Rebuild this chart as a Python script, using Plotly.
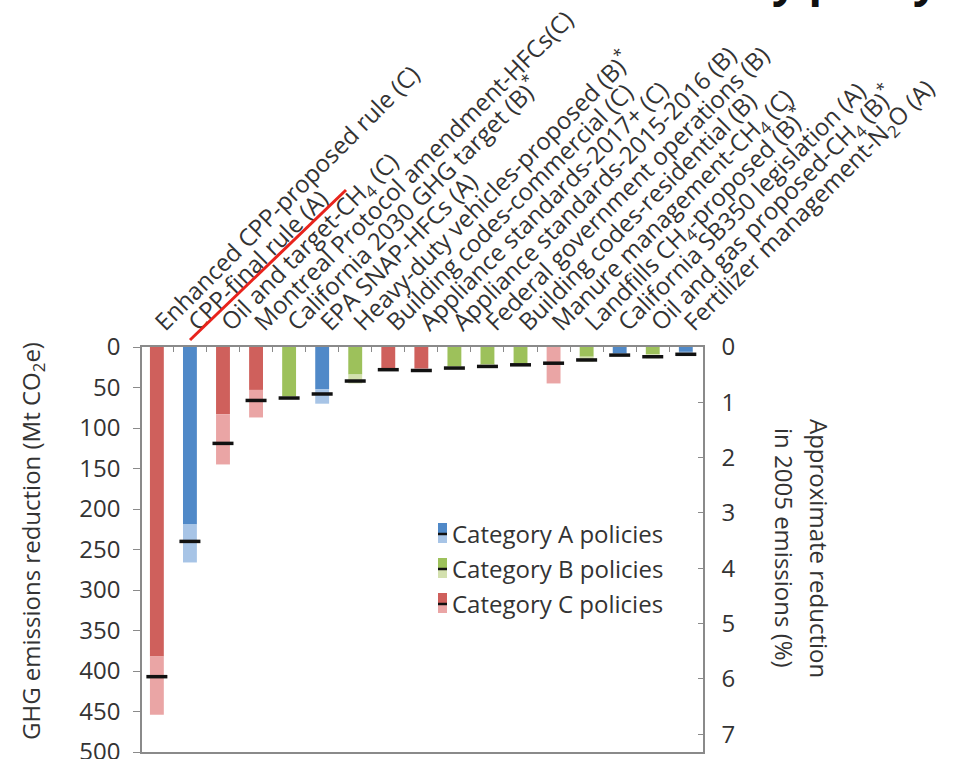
import plotly.graph_objects as go

# -------------------------------------------------------------
# Data (Mt CO2e)
# -------------------------------------------------------------
policies = [
    "Enhanced CPP-proposed rule (C)",
    "CPP-final rule (A)",
    "Oil and target-CH<sub>4</sub> (C)",
    "Montreal Protocol amendment-HFCs(C)",
    "California 2030 GHG target (B)<sup>*</sup>",
    "EPA SNAP-HFCs (A)",
    "Heavy-duty vehicles-proposed (B)<sup>*</sup>",
    "Building codes-commercial (C)",
    "Appliance standards-2017+ (C)",
    "Appliance standards-2015-2016 (B)",
    "Federal government operations (B)",
    "Building codes-residential (B)",
    "Manure management-CH<sub>4</sub> (C)",
    "Landfills CH<sub>4</sub>-proposed (B)<sup>*</sup>",
    "California SB350 legislation (A)",
    "Oil and gas proposed-CH<sub>4</sub> (B)<sup>*</sup>",
    "Fertilizer management-N<sub>2</sub>O (A)",
]
category = ["C", "A", "C", "C", "B", "A", "B", "C", "C", "B", "B", "B", "C", "B", "A", "B", "A"]
low_end = [382, 219, 83, 53, 61, 52, 34, 26, 26, 24, 22, 20, 0, 12, 8, 9, 6]
central = [407, 240, 119, 66, 63, 58, 42, 28, 29, 26, 24, 22, 20, 16, 10, 12, 9]
high_end = [454, 266, 145, 87, 64, 70, 45, 28, 29, 26, 24, 22, 45, 18, 10, 14, 9]

left_ticks = [0, 50, 100, 150, 200, 250, 300, 350, 400, 450, 500]
right_ticks = [0, 1, 2, 3, 4, 5, 6, 7]

dark = {"A": "#5089c8", "B": "#9dc15b", "C": "#cf605c"}
light = {"A": "#a7c4e6", "B": "#d3e0ae", "C": "#eaa5a5"}
legend_names = {"A": "Category A policies", "B": "Category B policies", "C": "Category C policies"}

FONT = "Open Sans"
FS = 24
TXT = "#333333"
AX = "#8a8a8a"

# pixel layout helpers
W, H = 963, 759
L, R, T, B = 142, 260, 347, 7
PW, PH = W - L - R, H - T - B


def px(x):
    return (x - L) / PW


def py(y):
    return (H - B - y) / PH


# -------------------------------------------------------------
# Figure
# -------------------------------------------------------------
fig = go.Figure()

fig.add_trace(go.Bar(
    x=policies, y=low_end,
    marker=dict(color=[dark[c] for c in category], line=dict(width=0)),
    width=0.42, showlegend=False, hoverinfo="skip",
))
fig.add_trace(go.Bar(
    x=policies, y=[h - l for h, l in zip(high_end, low_end)], base=low_end,
    marker=dict(color=[light[c] for c in category], line=dict(width=0)),
    width=0.42, showlegend=False, hoverinfo="skip",
))
fig.add_trace(go.Scatter(
    x=policies, y=central, mode="markers",
    marker=dict(symbol="line-ew", size=15, line=dict(width=3.5, color="#111111")),
    showlegend=False, hoverinfo="skip",
))
# invisible trace so the right axis is drawn
fig.add_trace(go.Scatter(x=[policies[0]], y=[0], yaxis="y2", mode="markers",
                         marker=dict(opacity=0), showlegend=False, hoverinfo="skip"))

fig.update_layout(
    width=W, height=H,
    margin=dict(l=L, r=R, t=T, b=B, autoexpand=False),
    paper_bgcolor="white", plot_bgcolor="white",
    barmode="overlay",
    font=dict(family=FONT, size=FS, color=TXT),
    xaxis=dict(
        type="category", side="top", range=[-0.45, 16.52],
        tickangle=-45, tickson="boundaries", ticks="inside", ticklen=5,
        tickcolor=AX, showline=True, linecolor=AX, linewidth=1.5, mirror=True,
        showgrid=False, tickfont=dict(size=FS, color=TXT),
    ),
    yaxis=dict(
        range=[500, 0], tickvals=left_ticks, ticks="outside", ticklen=7,
        tickcolor=AX, showline=True, linecolor=AX, linewidth=1.5, ticklabelstandoff=8,
        ticklabeloverflow="allow",
        showgrid=False, zeroline=False, tickfont=dict(size=FS, color=TXT),
    ),
    yaxis2=dict(
        overlaying="y", side="right", range=[7.32, 0], tickvals=right_ticks,
        ticks="inside", ticklen=5, tickcolor=AX, showline=True, linecolor=AX,
        linewidth=1.5, showgrid=False, zeroline=False, ticklabelstandoff=12,
        ticklabeloverflow="allow", tickfont=dict(size=FS, color=TXT),
    ),
)

# axis titles
fig.add_annotation(x=px(32), y=py(541), xref="paper", yref="paper", textangle=-90,
                   xanchor="center", yanchor="middle",
                   text="GHG emissions reduction (Mt CO<sub>2</sub>e)", showarrow=False,
                   font=dict(size=FS, color=TXT))
fig.add_annotation(x=px(820), y=py(548), xref="paper", yref="paper", textangle=90,
                   xanchor="center", yanchor="middle",
                   text="Approximate reduction", showarrow=False, font=dict(size=FS, color=TXT))
fig.add_annotation(x=px(785), y=py(548), xref="paper", yref="paper", textangle=90,
                   xanchor="center", yanchor="middle",
                   text="in 2005 emissions (%)", showarrow=False, font=dict(size=FS, color=TXT))

# legend drawn by hand (split swatch: dark / black line / light)
for i, c in enumerate(["A", "B", "C"]):
    cy = 533 + i * 35
    fig.add_shape(type="rect", xref="paper", yref="paper",
                  x0=px(438), x1=px(447), y0=py(cy - 10), y1=py(cy), fillcolor=dark[c], line_width=0)
    fig.add_shape(type="rect", xref="paper", yref="paper",
                  x0=px(438), x1=px(447), y0=py(cy), y1=py(cy + 10), fillcolor=light[c], line_width=0)
    fig.add_shape(type="line", xref="paper", yref="paper",
                  x0=px(438), x1=px(447), y0=py(cy + 1), y1=py(cy + 1),
                  line=dict(color="#111111", width=2.5))
    fig.add_annotation(x=px(450), y=py(cy), xref="paper", yref="paper", xanchor="left",
                       yanchor="middle", text=legend_names[c], showarrow=False,
                       font=dict(size=FS, color=TXT))

# red strike line over the first labels
fig.add_shape(type="line", xref="paper", yref="paper",
              x0=px(190), y0=py(340), x1=px(346), y1=py(190),
              line=dict(color="#e8231c", width=3))

# cropped title remnant at the top edge
fig.add_annotation(x=px(770), y=py(11), xref="paper", yref="paper", xanchor="left", yanchor="bottom",
                   text="<b>y policy</b>", showarrow=False,
                   font=dict(size=44, color="#111111", family=FONT))

# page body has a default 8px margin; drop it so the figure sits at the corner
fig.write_html("out.html", config={"displayModeBar": False},
               post_script="document.body.style.margin='0';")
